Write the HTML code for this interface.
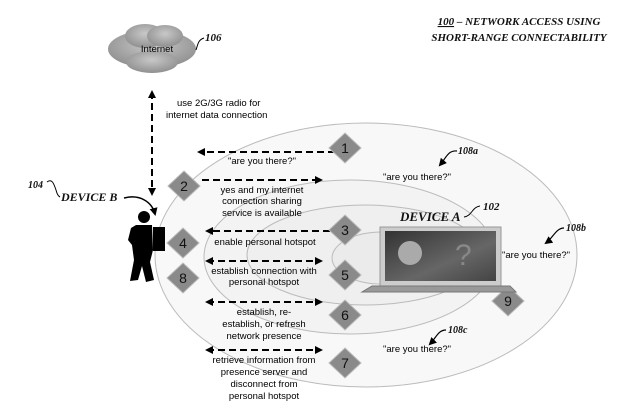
<!DOCTYPE html>
<html><head><meta charset="utf-8"><style>
html,body{margin:0;padding:0;background:#fff;}
svg{display:block;}
.t{font-family:"Liberation Sans",sans-serif;font-size:9.5px;fill:#000;}
.s{font-family:"Liberation Serif",serif;font-style:italic;font-weight:bold;fill:#111;}
.d{fill:#8a8a8a;stroke:#bbb;stroke-width:1;}
.n{font-family:"Liberation Sans",sans-serif;font-size:14px;fill:#111;text-anchor:middle;}
.dash{stroke:#000;stroke-width:2;stroke-dasharray:7,4;fill:none;}
</style></head><body>
<svg width="637" height="408" viewBox="0 0 637 408" xmlns="http://www.w3.org/2000/svg">
<defs>
<marker id="ah" markerWidth="8" markerHeight="8" refX="6" refY="4" orient="auto" markerUnits="userSpaceOnUse"><path d="M0,0 L8,4 L0,8 Z" fill="#000"/></marker>
<marker id="as" markerWidth="8" markerHeight="8" refX="2" refY="4" orient="auto" markerUnits="userSpaceOnUse"><path d="M8,0 L0,4 L8,8 Z" fill="#000"/></marker>
<radialGradient id="cg" cx="50%" cy="40%" r="60%"><stop offset="0" stop-color="#c8c8c8"/><stop offset="1" stop-color="#909090"/></radialGradient>
<linearGradient id="sg" x1="0" y1="0" x2="1" y2="1"><stop offset="0" stop-color="#333"/><stop offset="0.6" stop-color="#666"/><stop offset="1" stop-color="#444"/></linearGradient>
</defs>
<text class="s" x="519" y="25" font-size="11" text-anchor="middle"><tspan text-decoration="underline">100</tspan> – NETWORK ACCESS USING</text>
<text class="s" x="519" y="41" font-size="11" text-anchor="middle">SHORT-RANGE CONNECTABILITY</text>
<ellipse cx="366" cy="255" rx="211" ry="132" fill="#f8f8f8" stroke="#bbb"/>
<ellipse cx="350" cy="257" rx="146" ry="77" fill="#f3f3f3" stroke="#bbb"/>
<ellipse cx="365" cy="255" rx="118" ry="50" fill="#efefef" stroke="#bbb"/>
<ellipse cx="382" cy="258" rx="50" ry="26" fill="#ebebeb" stroke="#bbb"/>
<g fill="url(#cg)">
<ellipse cx="152" cy="49" rx="44" ry="19"/>
<ellipse cx="145" cy="36" rx="20" ry="12"/>
<ellipse cx="165" cy="36" rx="18" ry="11"/>
<ellipse cx="152" cy="62" rx="26" ry="11"/>
</g>
<text class="t" x="157" y="52" text-anchor="middle" font-size="9">Internet</text>
<path d="M196,50 C198,44 198,40 204,38" stroke="#000" fill="none"/>
<text class="s" x="205" y="41" font-size="11">106</text>
<line x1="152" y1="92" x2="152" y2="194" class="dash" marker-start="url(#as)" marker-end="url(#ah)"/>
<text class="t" x="177" y="106">use 2G/3G radio for</text>
<text class="t" x="166" y="118">internet data connection</text>
<text class="s" x="28" y="188" font-size="10">104</text>
<path d="M47,182 C52,178 54,184 56,190 C57,194 58,196 60,197" stroke="#000" fill="none"/>
<text class="s" x="61" y="201" font-size="12" font-weight="normal">DEVICE B</text>
<path d="M124,198 C140,194 152,202 155,214" stroke="#000" stroke-width="1.5" fill="none" marker-end="url(#ah)"/>
<circle cx="144" cy="217" r="6" fill="#000"/>
<path d="M136,225 L152,225 L153,250 L150,262 L154,280 L146,282 L142,266 L138,280 L130,281 L134,260 L132,245 L128,240 L131,228 Z" fill="#000"/>
<rect x="153" y="227" width="12" height="24" fill="#000"/>
<line x1="335" y1="152" x2="199" y2="152" class="dash" marker-end="url(#ah)"/>
<text class="t" x="262" y="164" text-anchor="middle">"are you there?"</text>
<line x1="202" y1="180" x2="321" y2="180" class="dash" marker-end="url(#ah)"/>
<text class="t" x="262" y="193" text-anchor="middle">yes and my internet</text>
<text class="t" x="262" y="204" text-anchor="middle">connection sharing</text>
<text class="t" x="262" y="216" text-anchor="middle">service is available</text>
<line x1="330" y1="231" x2="207" y2="231" class="dash" marker-end="url(#ah)"/>
<text class="t" x="265" y="245" text-anchor="middle">enable personal hotspot</text>
<line x1="207" y1="261" x2="321" y2="261" class="dash" marker-start="url(#as)" marker-end="url(#ah)"/>
<text class="t" x="264" y="274" text-anchor="middle">establish connection with</text>
<text class="t" x="264" y="285" text-anchor="middle">personal hotspot</text>
<line x1="207" y1="302" x2="321" y2="302" class="dash" marker-start="url(#as)" marker-end="url(#ah)"/>
<text class="t" x="264" y="315" text-anchor="middle">establish, re-</text>
<text class="t" x="264" y="327" text-anchor="middle">establish, or refresh</text>
<text class="t" x="264" y="339" text-anchor="middle">network presence</text>
<line x1="207" y1="350" x2="321" y2="350" class="dash" marker-start="url(#as)" marker-end="url(#ah)"/>
<text class="t" x="264" y="363" text-anchor="middle">retrieve information from</text>
<text class="t" x="264" y="375" text-anchor="middle">presence server and</text>
<text class="t" x="264" y="387" text-anchor="middle">disconnect from</text>
<text class="t" x="264" y="399" text-anchor="middle">personal hotspot</text>
<g>
<path class="d" d="M345,133 L361,148 L345,163 L329,148 Z"/><text class="n" x="345" y="153">1</text>
<path class="d" d="M184,171 L200,186 L184,201 L168,186 Z"/><text class="n" x="184" y="191">2</text>
<path class="d" d="M345,215 L361,230 L345,245 L329,230 Z"/><text class="n" x="345" y="235">3</text>
<path class="d" d="M183,228 L199,243 L183,258 L167,243 Z"/><text class="n" x="183" y="248">4</text>
<path class="d" d="M345,260 L361,275 L345,290 L329,275 Z"/><text class="n" x="345" y="280">5</text>
<path class="d" d="M183,263 L199,278 L183,293 L167,278 Z"/><text class="n" x="183" y="283">8</text>
<path class="d" d="M345,300 L361,315 L345,330 L329,315 Z"/><text class="n" x="345" y="320">6</text>
<path class="d" d="M345,348 L361,363 L345,378 L329,363 Z"/><text class="n" x="345" y="368">7</text>
<path class="d" d="M508,286 L524,301 L508,316 L492,301 Z"/><text class="n" x="508" y="306">9</text>
</g>
<rect x="380" y="227" width="121" height="59" fill="#ccc" stroke="#999"/>
<rect x="385" y="231" width="111" height="50" fill="url(#sg)"/>
<circle cx="410" cy="253" r="12" fill="#aaa"/>
<text x="455" y="265" font-family="Liberation Sans,sans-serif" font-size="30" fill="#888">?</text>
<path d="M372,286 L510,286 L516,292 L362,292 Z" fill="#999" stroke="#777"/>
<text class="s" x="400" y="221" font-size="13" font-weight="normal">DEVICE A</text>
<path d="M464,217 C472,216 472,207 480,206" stroke="#000" fill="none"/>
<text class="s" x="483" y="210" font-size="11">102</text>
<text class="s" x="458" y="154" font-size="10">108a</text>
<path d="M457,151 C448,150 446,158 440,165" stroke="#000" stroke-width="1.2" fill="none" marker-end="url(#ah)"/>
<text class="t" x="383" y="180">"are you there?"</text>
<text class="s" x="566" y="231" font-size="10">108b</text>
<path d="M564,228 C556,228 553,238 546,243" stroke="#000" stroke-width="1.2" fill="none" marker-end="url(#ah)"/>
<text class="t" x="502" y="258">"are you there?"</text>
<text class="s" x="448" y="333" font-size="10">108c</text>
<path d="M446,330 C438,330 436,338 430,344" stroke="#000" stroke-width="1.2" fill="none" marker-end="url(#ah)"/>
<text class="t" x="383" y="352">"are you there?"</text>
</svg>
</body></html>
